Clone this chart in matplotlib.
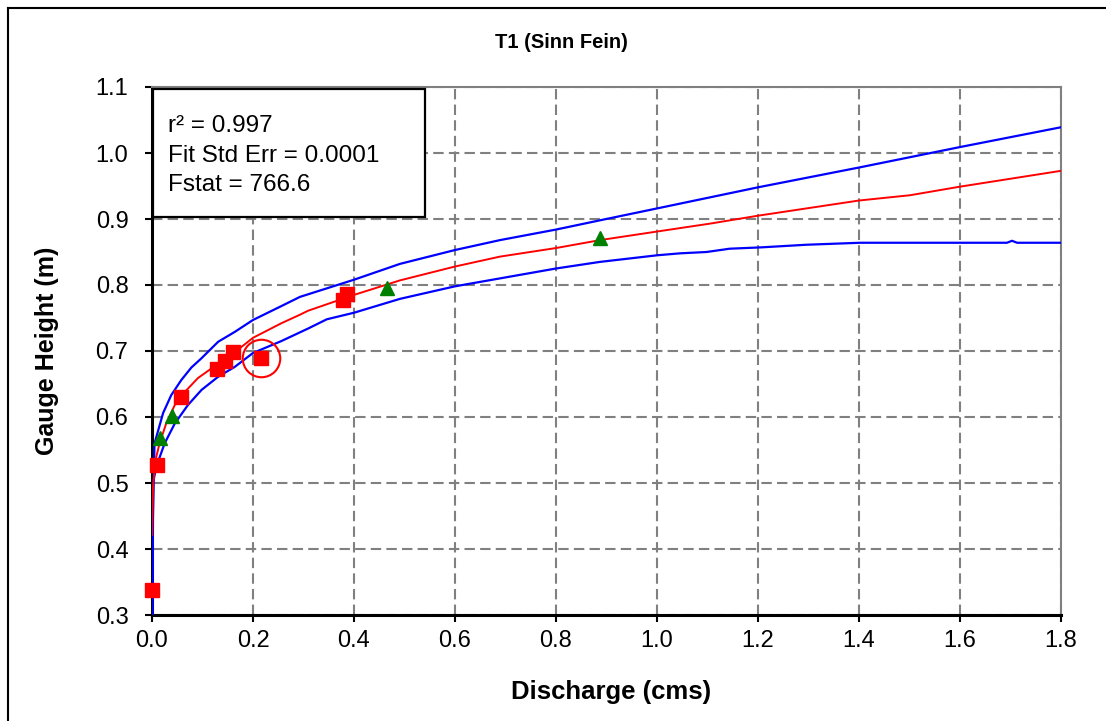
import numpy as np
import matplotlib
matplotlib.use('Agg')
import matplotlib.pyplot as plt
from matplotlib.lines import Line2D
from matplotlib.patches import Rectangle

plt.rcParams['font.family'] = ['Liberation Sans', 'DejaVu Sans']

# curvas (ajuste y limites)
fit_x = [0.0, 0.002, 0.007, 0.015, 0.028, 0.045, 0.065, 0.091, 0.124, 0.157, 0.2, 0.256,
         0.293, 0.309, 0.4, 0.491, 0.6, 0.689, 0.8, 0.887, 1.0, 1.105, 1.2, 1.4, 1.501, 1.6, 1.8]
fit_y = [0.421, 0.494, 0.535, 0.56, 0.59, 0.618, 0.638, 0.659, 0.677, 0.694, 0.72, 0.742,
         0.755, 0.761, 0.785, 0.807, 0.828, 0.843, 0.856, 0.868, 0.881, 0.893, 0.905, 0.928, 0.936, 0.949, 0.973]

up_x = [0.0005, 0.002, 0.005, 0.022, 0.038, 0.058, 0.078, 0.098, 0.131, 0.164, 0.2, 0.256,
        0.293, 0.4, 0.491, 0.6, 0.689, 0.8, 0.887, 1.0, 1.2, 1.4, 1.6, 1.8]
up_y = [0.30, 0.45, 0.56, 0.606, 0.633, 0.656, 0.675, 0.689, 0.714, 0.729, 0.747, 0.768,
        0.782, 0.808, 0.832, 0.853, 0.868, 0.884, 0.898, 0.916, 0.948, 0.978, 1.009, 1.039]

lo_x = [0.001, 0.002, 0.0086, 0.025, 0.045, 0.071, 0.098, 0.131, 0.164, 0.2, 0.256, 0.309,
        0.346, 0.4, 0.491, 0.6, 0.689, 0.8, 0.887, 1.0, 1.046, 1.098, 1.144, 1.206, 1.296,
        1.402, 1.693, 1.703, 1.713, 1.8]
lo_y = [0.30, 0.50, 0.525, 0.56, 0.59, 0.618, 0.641, 0.661, 0.676, 0.697, 0.715, 0.734,
        0.748, 0.758, 0.779, 0.798, 0.81, 0.825, 0.835, 0.845, 0.848, 0.85, 0.855, 0.857, 0.861,
        0.864, 0.864, 0.867, 0.864, 0.864]

# mediciones
sq_x = [0.0, 0.0105, 0.058, 0.129, 0.144, 0.16, 0.215, 0.379, 0.387]
sq_y = [0.338, 0.527, 0.630, 0.672, 0.685, 0.699, 0.690, 0.777, 0.787]
tri_x = [0.015, 0.04, 0.466, 0.887]
tri_y = [0.568, 0.601, 0.796, 0.871]
outlier_x = [0.215]
outlier_y = [0.690]

stats = ['r² = 0.997', 'Fit Std Err = 0.0001', 'Fstat = 766.6']

W, H = 1106, 721
fig = plt.figure(figsize=(W / 100, H / 100), dpi=100)
ax = fig.add_axes([152 / W, 1 - 615 / H, (1061 - 152) / W, (615 - 87) / H])

ax.plot(up_x, up_y, color='#0000ff', lw=1.6, zorder=3)
ax.plot(lo_x, lo_y, color='#0000ff', lw=1.6, zorder=3)
ax.plot(fit_x, fit_y, color='#ff0000', lw=1.4, zorder=3)
ax.plot(sq_x, sq_y, 's', color='#ff0000', ms=10.5, mec='#ff0000', zorder=4, clip_on=False)
ax.plot(tri_x, tri_y, '^', color='#008000', ms=10, mec='#008000', zorder=4, clip_on=False)
ax.plot(outlier_x, outlier_y, 'o', mfc='none', mec='#ff0000', ms=27, mew=1.5, zorder=4)

ax.set_xlim(0, 1.8)
ax.set_ylim(0.3, 1.1)
ax.set_xticks(np.arange(0, 1.81, 0.2))
ax.set_yticks(np.arange(0.3, 1.11, 0.1))
ax.xaxis.set_major_formatter(plt.FormatStrFormatter('%.1f'))
ax.yaxis.set_major_formatter(plt.FormatStrFormatter('%.1f'))
ax.tick_params(direction='out', length=5, width=1.5, labelsize=17, color='black')
ax.tick_params(axis='y', pad=12)
ax.tick_params(axis='x', pad=6)
ax.grid(True, color='#808080', ls=(0, (5, 2.5)), lw=1.5)
ax.set_axisbelow(True)

for s in ['left', 'bottom']:
    ax.spines[s].set_linewidth(2.2)
    ax.spines[s].set_color('black')
for s in ['top', 'right']:
    ax.spines[s].set_linewidth(1.5)
    ax.spines[s].set_color('#808080')

# cuadro de estadisticas
ax.add_patch(Rectangle((1 / 909, 1 - (217 - 87) / 528), (425 - 153) / 909, (217 - 89) / 528,
                       transform=ax.transAxes, facecolor='white', edgecolor='black', lw=1.6, zorder=5))
for i, s in enumerate(stats):
    fig.text(168 / W, 1 - (132 + 29.5 * i) / H, s, fontsize=17.5, va='baseline', ha='left', zorder=6)

fig.text(561 / W, 1 - 43 / H, 'T1 (Sinn Fein)', fontsize=14.5, fontweight='bold', ha='center', va='center')
fig.text(611 / W, 1 - 692 / H, 'Discharge (cms)', fontsize=18.5, fontweight='bold', ha='center', va='center')
fig.text(47 / W, 1 - 351 / H, 'Gauge Height (m)', fontsize=18, fontweight='bold', ha='center', va='center',
         rotation=90)

# marco exterior
fig.add_artist(Line2D([8 / W, 8 / W], [1 - 8 / H, 0], color='black', lw=1.5))
fig.add_artist(Line2D([8 / W, 1], [1 - 8 / H, 1 - 8 / H], color='black', lw=1.5))

fig.savefig('out.png', dpi=100)
